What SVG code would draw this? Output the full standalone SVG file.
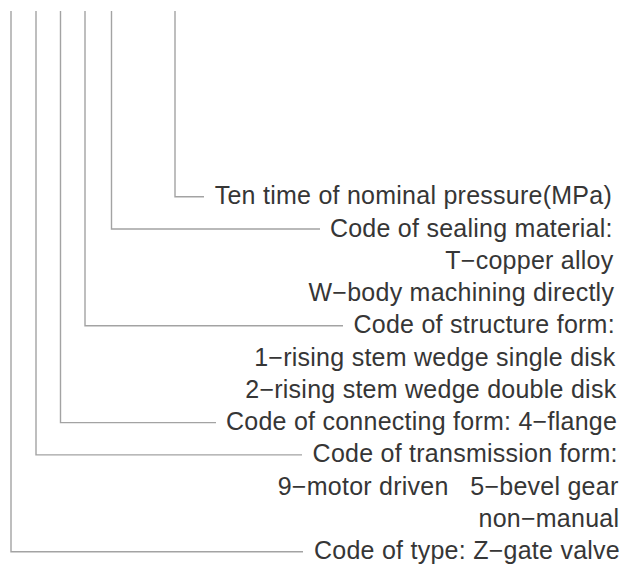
<svg xmlns="http://www.w3.org/2000/svg" width="626" height="564" viewBox="0 0 626 564">
<style>
.ln{fill:none;stroke:#a3a3a3;stroke-width:1.4}
text{font-family:"Liberation Sans",Arial,sans-serif;font-size:25px;letter-spacing:0.25px;fill:#363636;text-anchor:end}
</style>
<rect width="626" height="564" fill="#fff"/>
<g id="connectors">
<path class="ln" d="M175,11 V196.7 H204"/>
<path class="ln" d="M111.5,11 V229 H320"/>
<path class="ln" d="M85,11 V325.8 H343"/>
<path class="ln" d="M60.5,11 V422.6 H216"/>
<path class="ln" d="M36,11 V454.9 H302"/>
<path class="ln" d="M11,11 V551.7 H303"/>
</g>
<g id="pressure"><text x="612" y="204.2">Ten time of nominal pressure(MPa)</text></g>
<g id="sealing">
<text x="612.7" y="236.5">Code of sealing material:</text>
<text x="613.5" y="268.7">T−copper alloy</text>
<text x="614.2" y="301">W−body machining directly</text>
</g>
<g id="structure">
<text x="614.9" y="333.3">Code of structure form:</text>
<text x="615.6" y="365.6">1−rising stem wedge single disk</text>
<text x="616.4" y="397.8">2−rising stem wedge double disk</text>
</g>
<g id="connecting"><text x="617.1" y="430.1">Code of connecting form: 4−flange</text></g>
<g id="transmission">
<text x="617.8" y="462.4">Code of transmission form:</text>
<text x="618.5" y="494.7" xml:space="preserve">9−motor driven   5−bevel gear</text>
<text x="619.3" y="526.9">non−manual</text>
</g>
<g id="type"><text x="620" y="559.2">Code of type: Z−gate valve</text></g>
</svg>
